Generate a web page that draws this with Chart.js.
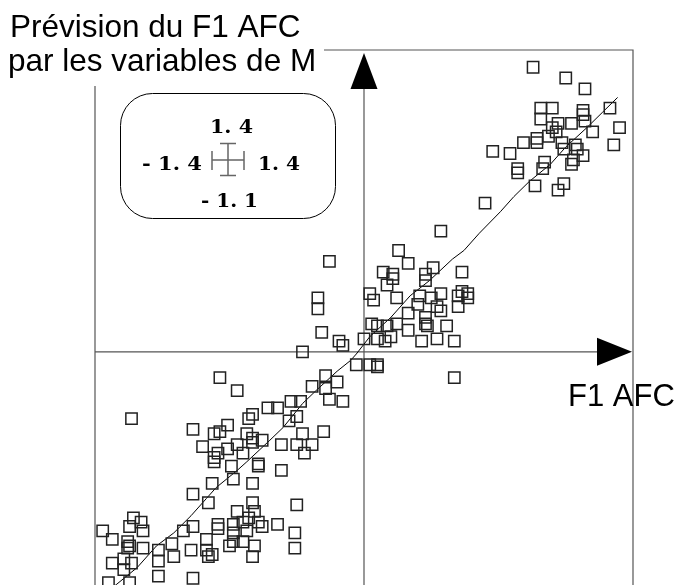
<!DOCTYPE html>
<html>
<head>
<meta charset="utf-8">
<script src="https://cdn.jsdelivr.net/npm/chart.js@4.4.1/dist/chart.umd.min.js"></script>
<style>
    html, body { margin: 0; padding: 0; background: #fff; }
    #wrap { width: 677px; height: 585px; overflow: hidden; }
</style>
</head>
<body>
<div id="wrap"><canvas id="chart" width="677" height="600"></canvas></div>
<script>
// individus: F1 AFC (x) vs prevision par les variables de M (y)
const pointsX = [
    0.88, 1.05, 1.15, 0.92, 0.98, 1.14, 1.28, 0.92, 1.14, 1.15, 1.33, 1.08, 1.01, 0.98, 1.00, 1.19, 0.96, 0.90, 0.83,
    0.90, 1.03, 1.10, 1.30, 0.67, 0.76, 1.04, 1.11, 1.14, 1.09, 0.94, 0.80, 0.80, 0.93, 1.08, 1.04, 1.01, 0.89, 0.63,
    0.40, 0.18, -0.18, 0.23, 0.36, 0.51, 0.10, 0.15, 0.15, 0.32, 0.32, 0.12, -0.24, -0.24, 0.03, 0.05, 0.17, 0.29,
    0.35, 0.40, 0.51, 0.54, 0.54, 0.49, 0.49, 0.28, 0.38, 0.40, 0.23, 0.32, 0.32, 0.33, 0.04, 0.07, 0.12, 0.17,
    0.23, 0.43, -0.22, -0.13, -0.11, 0.00, 0.07, 0.11, 0.14, 0.30, 0.38, 0.47, -0.32, -0.04, 0.03, 0.07, 0.07,
    -0.20, 0.47,
    -0.75, -0.66, -0.14, -0.27, -0.20, -0.18, -0.11, -0.50, -0.45, -0.38, -0.33, -0.35, -0.58, -0.60, -0.39, -0.89,
    -0.71, -0.75, -0.78, -0.61, -0.58, -0.58, -0.53, -0.32, -0.21, -0.84, -0.66, -0.43, -0.35, -0.27, -0.71, -0.76,
    -0.78, -0.78, -0.63, -0.31, -0.69, -0.55, -0.55, -0.43, -0.68, -0.79, -0.58, -1.21,
    -0.89, -0.81, -0.58, -0.35, -1.20, -1.16, -1.22, -1.15, -1.36, -1.31, -1.23, -1.22, -1.23, -1.15, -0.94, -0.89,
    -1.00, -1.07, -1.07, -0.99, -0.90, -0.82, -0.82, -0.81, -0.79, -0.76, -0.76, -0.68, -0.68, -0.68, -0.70, -0.66,
    -0.57, -0.60, -0.63, -0.55, -0.53, -0.61, -0.63, -0.57, -0.58, -0.45, -0.36, -0.36, -1.31, -1.25, -1.25, -1.21,
    -1.07, -0.89, -1.33, -1.22
];
const pointsY = [
    1.32, 1.27, 1.22, 1.13, 1.13, 1.12, 1.13, 1.08, 1.10, 1.07, 1.04, 1.06, 1.06, 1.04, 1.02, 1.02, 1.00, 0.99, 0.97,
    0.97, 0.97, 0.96, 0.96, 0.93, 0.92, 0.94, 0.94, 0.91, 0.89, 0.88, 0.85, 0.83, 0.85, 0.87, 0.78, 0.75, 0.77, 0.69,
    0.56, 0.47, 0.42, 0.41, 0.39, 0.37, 0.37, 0.36, 0.34, 0.36, 0.33, 0.31, 0.25, 0.20, 0.27, 0.24, 0.25, 0.26,
    0.25, 0.27, 0.28, 0.27, 0.25, 0.26, 0.21, 0.22, 0.21, 0.19, 0.18, 0.16, 0.13, 0.12, 0.13, 0.12, 0.12, 0.13,
    0.10, 0.12, 0.09, 0.05, 0.03, 0.06, 0.06, 0.05, 0.07, 0.05, 0.06, 0.05, 0.00, -0.06, -0.06, -0.06, -0.07,
    -0.11, -0.12,
    -0.12, -0.18, -0.14, -0.16, -0.17, -0.22, -0.23, -0.26, -0.26, -0.23, -0.23, -0.30, -0.29, -0.31, -0.32, -0.36,
    -0.34, -0.37, -0.38, -0.38, -0.40, -0.42, -0.41, -0.38, -0.37, -0.44, -0.43, -0.43, -0.43, -0.43, -0.45, -0.47,
    -0.49, -0.51, -0.47, -0.47, -0.53, -0.52, -0.53, -0.55, -0.59, -0.61, -0.61, -0.31,
    -0.66, -0.70, -0.70, -0.71, -0.77, -0.79, -0.81, -0.83, -0.83, -0.87, -0.88, -0.90, -0.91, -0.91, -0.83, -0.81,
    -0.89, -0.92, -0.97, -0.95, -0.92, -0.87, -0.92, -0.95, -0.94, -0.80, -0.82, -0.80, -0.84, -0.88, -0.90, -0.74,
    -0.74, -0.77, -0.79, -0.79, -0.81, -0.83, -0.88, -0.90, -0.95, -0.80, -0.84, -0.91, -0.98, -0.96, -1.01, -0.98,
    -1.04, -1.05, -1.07, -1.07
];

// courbe de lissage
const curveX = [-1.32, -1.29, -1.18, -1.08, -0.99, -0.90, -0.82, -0.77, -0.66, -0.61, -0.49, -0.42, -0.32, -0.25,
    -0.14, -0.07, -0.04, 0.03, 0.14, 0.24, 0.34, 0.46, 0.52, 0.60, 0.71, 0.78, 0.86, 0.97, 1.05, 1.16, 1.24, 1.32];
const curveY = [-1.10, -1.08, -1.00, -0.90, -0.84, -0.76, -0.68, -0.63, -0.55, -0.51, -0.41, -0.35, -0.24, -0.18,
    -0.09, -0.04, -0.01, 0.07, 0.16, 0.26, 0.33, 0.43, 0.47, 0.55, 0.65, 0.72, 0.79, 0.87, 0.95, 1.04, 1.11, 1.18];

const xLimits = [-1.4, 1.4];
const yLimits = [-1.1, 1.4];
const scaleLabels = ['1. 4', '- 1. 4', '1. 4', '- 1. 1'];
const titleLines = ['Prévision du F1 AFC', 'par les variables de M'];
const xAxisLabel = 'F1 AFC';

const scatterData = pointsX.map((x, i) => ({ x, y: pointsY[i] }));
const curveData = curveX.map((x, i) => ({ x, y: curveY[i] }));

// text squeezed/stretched horizontally between left and right
function drawFitted(ctx, text, left, right, baseline) {
    const w = ctx.measureText(text).width;
    ctx.save();
    ctx.translate(left, baseline);
    ctx.scale((right - left) / w, 1);
    ctx.textAlign = 'left';
    ctx.fillText(text, 0, 0);
    ctx.restore();
}

const framePlugin = {
    id: 'frame',
    beforeDatasetsDraw(chart) {
        const { ctx, chartArea: a, scales } = chart;
        const x0 = scales.x.getPixelForValue(0);
        const y0 = scales.y.getPixelForValue(0);
        ctx.save();
        ctx.strokeStyle = '#555';
        ctx.lineWidth = 1.2;
        ctx.beginPath();
        ctx.moveTo(a.left, a.bottom + 20);
        ctx.lineTo(a.left, a.top);
        ctx.lineTo(a.right, a.top);
        ctx.lineTo(a.right, a.bottom + 20);
        // axes through origin
        ctx.moveTo(x0, a.bottom + 20);
        ctx.lineTo(x0, a.top + 36);
        ctx.moveTo(a.left, y0);
        ctx.lineTo(a.right - 36, y0);
        ctx.stroke();

        ctx.fillStyle = '#000';
        ctx.beginPath();
        ctx.moveTo(x0, a.top + 3);
        ctx.lineTo(x0 + 13.5, a.top + 39);
        ctx.lineTo(x0 - 13.5, a.top + 39);
        ctx.closePath();
        ctx.fill();
        ctx.beginPath();
        ctx.moveTo(a.right - 1, y0);
        ctx.lineTo(a.right - 36, y0 - 14);
        ctx.lineTo(a.right - 36, y0 + 14);
        ctx.closePath();
        ctx.fill();
        ctx.restore();
    },
    afterDraw(chart) {
        const { ctx } = chart;
        ctx.save();
        // title, masking the frame corner
        ctx.fillStyle = '#fff';
        ctx.fillRect(0, 0, 324, 86);
        ctx.fillStyle = '#000';
        ctx.font = '31.5px "Liberation Sans", Arial, sans-serif';
        ctx.textBaseline = 'alphabetic';
        ctx.textAlign = 'left';
        ctx.fillText(titleLines[0], 10, 37);
        ctx.fillText(titleLines[1], 8, 71);
        ctx.font = '31px "Liberation Sans", Arial, sans-serif';
        ctx.fillText(xAxisLabel, 568, 406);

        // scale box
        ctx.strokeStyle = '#000';
        ctx.lineWidth = 1;
        ctx.beginPath();
        ctx.roundRect(120.5, 93.5, 215, 125, 32);
        ctx.stroke();
        ctx.font = 'bold 18px "DejaVu Serif", serif';
        drawFitted(ctx, scaleLabels[0], 210, 253, 133);
        drawFitted(ctx, scaleLabels[1], 142, 202, 170);
        drawFitted(ctx, scaleLabels[2], 258, 300, 170);
        drawFitted(ctx, scaleLabels[3], 201, 258, 207);

        ctx.strokeStyle = '#666';
        ctx.lineWidth = 1.5;
        ctx.beginPath();
        ctx.moveTo(212, 160); ctx.lineTo(244, 160);
        ctx.moveTo(212, 151); ctx.lineTo(212, 170);
        ctx.moveTo(244, 151); ctx.lineTo(244, 170);
        ctx.moveTo(228, 143.5); ctx.lineTo(228, 175.5);
        ctx.moveTo(220, 143.5); ctx.lineTo(236, 143.5);
        ctx.moveTo(220, 175.5); ctx.lineTo(236, 175.5);
        ctx.stroke();
        ctx.restore();
    }
};

new Chart(document.getElementById('chart'), {
    type: 'scatter',
    data: {
        datasets: [
            {
                data: scatterData,
                pointStyle: 'rect',
                pointRadius: 8,
                pointBorderWidth: 1.5,
                pointBorderColor: '#222',
                pointBackgroundColor: 'rgba(0,0,0,0)',
                showLine: false
            },
            {
                type: 'line',
                data: curveData,
                borderColor: '#000',
                borderWidth: 1,
                pointRadius: 0,
                tension: 0,
                fill: false
            }
        ]
    },
    options: {
        responsive: false,
        devicePixelRatio: 1,
        animation: false,
        layout: { padding: { left: 95, right: 44, top: 50, bottom: 11 } },
        scales: {
            x: { type: 'linear', min: xLimits[0], max: xLimits[1], display: false },
            y: { type: 'linear', min: yLimits[0], max: yLimits[1], display: false }
        },
        plugins: {
            legend: { display: false },
            tooltip: { enabled: false }
        }
    },
    plugins: [framePlugin]
});
</script>
</body>
</html>
